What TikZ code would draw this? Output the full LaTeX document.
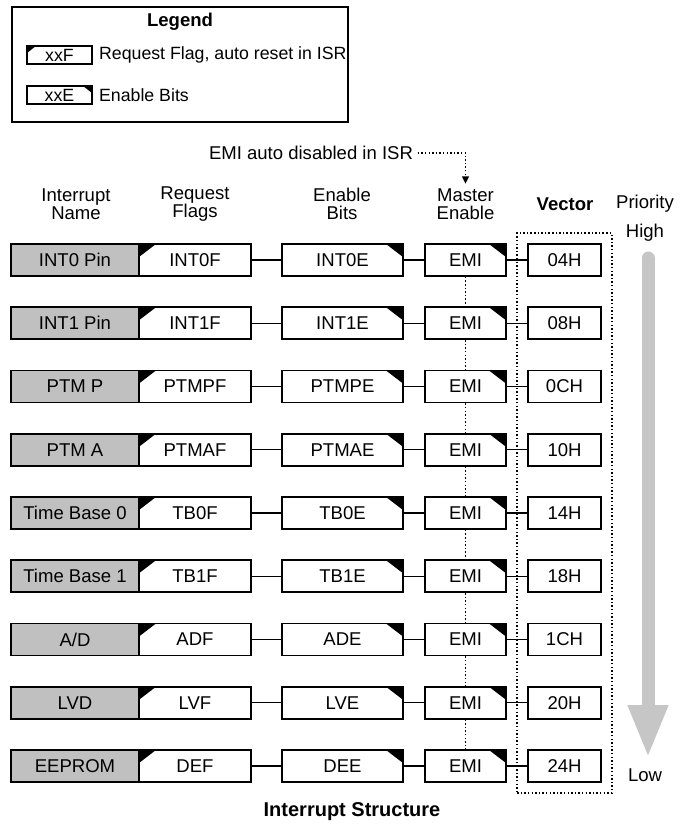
\documentclass[tikz,border=0pt]{standalone}
\usepackage{fontspec}
\setmainfont{Liberation Sans}
\usetikzlibrary{positioning, fit, arrows.meta}
\definecolor{pingray}{RGB}{192, 192, 192}
\definecolor{priogray}{RGB}{198, 198, 198}

\begin{document}
\begin{tikzpicture}[x=0.75pt, y=-0.75pt,
    every node/.style={font=\fontsize{13.9}{13.5}\selectfont},
    ttl/.style={font=\fontsize{13.9}{13.5}\selectfont\bfseries},
    lgtxt/.style={font=\fontsize{13.3}{13.5}\selectfont, inner sep=0pt},
    hdr/.style={align=center},
    cellbox/.style={draw, line width=1.3pt, fill=white, inner sep=0pt,
        minimum height=24pt},
    flagcut/.style 2 args={path picture={\fill[black] (path picture bounding box.north west)
        -- ++(#1,0) -- ++(-#1,-#2) -- cycle;}},
    encut/.style 2 args={path picture={\fill[black] (path picture bounding box.north east)
        -- ++(-#1,0) -- ++(#1,-#2) -- cycle;}},
    namebox/.style={cellbox, fill=pingray, minimum width=96pt},
    flagbox/.style={cellbox, flagcut={12.75pt}{9.75pt}, minimum width=84pt},
    enbox/.style={cellbox, encut={12.75pt}{9.75pt}, minimum width=90.75pt},
    emibox/.style={cellbox, encut={12.75pt}{9.75pt}, minimum width=60.75pt},
    vecbox/.style={cellbox, minimum width=54.75pt},
    link/.style={line width=1.1pt},
    dotline/.style={line width=1.1pt, dash pattern=on 1.1pt off 1.6pt}
]
\useasboundingbox (0,0) rectangle (680,826);

% legend
\node[draw, line width=1.3pt, minimum width=252pt, minimum height=86.25pt] (legend) at (180,64.5) {};
\node[ttl] (legendttl) at (180,22) {Legend};
\node[cellbox, lgtxt, flagcut={7pt}{5.5pt}, minimum width=48.75pt, minimum height=14pt] (lgf) at (59.5,55) {xxF};
\node[lgtxt, right=4.5pt of lgf] (lgftxt) {Request Flag, auto reset in ISR};
\node[cellbox, lgtxt, encut={7pt}{5.5pt}, minimum width=48.75pt, minimum height=14pt] (lge) at (59.5,95) {xxE};
\node[lgtxt, right=4.5pt of lge] (lgetxt) {Enable Bits};

% column heads
\node[hdr] (nhdr) at (76,204) {Interrupt\\Name};
\node[hdr] (fhdr) at (195,204) {Request\\Flags};
\node[hdr] (ehdr) at (342,204) {Enable\\Bits};
\node[hdr] (mhdr) at (465.5,204) {Master\\Enable};
\node[ttl] (vhdr) at (565,204) {Vector};
\node (phdr) at (645,204) {Priority};
\node (high) at (645,233) {High};
\node (low) at (645,775) {Low};

\node (note) at (311,153) {EMI auto disabled in ISR};
\draw[dotline, -{Triangle[length=5.5pt, width=5pt]}] (note.east) -| (mhdr.north);

% rows
\foreach \nm/\fl/\en/\vc [count=\i] in {INT0 Pin/INT0F/INT0E/04H, INT1 Pin/INT1F/INT1E/08H,
        PTM P/PTMPF/PTMPE/0CH, PTM A/PTMAF/PTMAE/10H, Time Base 0/TB0F/TB0E/14H,
        Time Base 1/TB1F/TB1E/18H, {A/D}/ADF/ADE/1CH, LVD/LVF/LVE/20H, EEPROM/DEF/DEE/24H} {
    \pgfmathsetmacro\y{260+63.25*(\i-1)}
    \node[namebox] (nm\i) at (75,\y) {\nm};
    \node[flagbox] (fl\i) at (195,\y) {\fl};
    \node[enbox] (en\i) at (342.5,\y) {\en};
    \node[emibox] (emi\i) at (465.5,\y) {EMI};
    \node[vecbox] (vec\i) at (564.5,\y) {\vc};
    \draw[link] (fl\i) -- (en\i);
    \draw[link] (en\i) -- (emi\i);
    \draw[link] (emi\i) -- (vec\i);
}
\foreach \i [evaluate=\i as \j using int(\i+1)] in {1,...,8}
    \draw[dotline] (emi\i.south) -- (emi\j.north);

\node[draw, dotline, fit=(vec1)(vec9), inner sep=7.5pt] (vecframe) {};

\coordinate (ptop) at (648,258);
\coordinate (ptip) at (648,758);
\draw[line width=9.75pt, priogray, line cap=round, -{Triangle[length=39.75pt, width=27.75pt]}] (ptop) -- (ptip);

\node[ttl, font=\fontsize{15}{15}\selectfont\bfseries] (caption) at (352,812) {Interrupt Structure};
\end{tikzpicture}
\end{document}
